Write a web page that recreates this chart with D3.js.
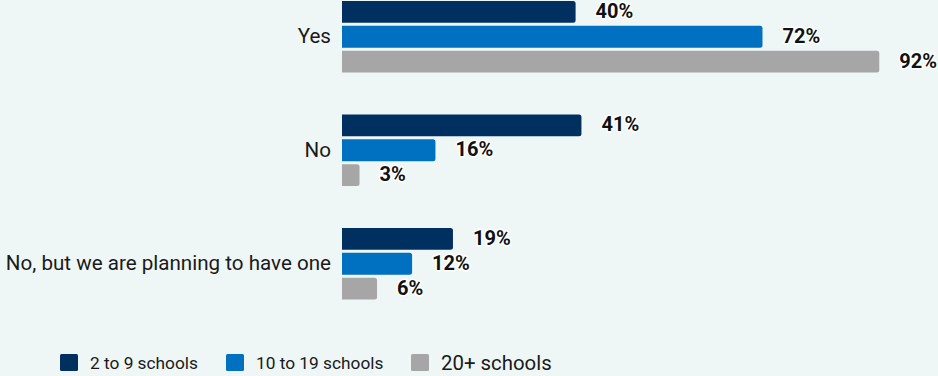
<!DOCTYPE html>
<html>
<head>
<meta charset="utf-8">
<script src="https://cdn.jsdelivr.net/npm/d3@7"></script>
<style>
  html, body { margin: 0; padding: 0; background: #eef7f6; }
  svg { display: block; font-family: Roboto, "Noto Sans", sans-serif; }
</style>
</head>
<body>
<svg id="chart" width="938" height="376"></svg>
<script>
// Survey answers, one group of bars per answer
const categories = ["Yes", "No", "No, but we are planning to have one"];
const seriesNames = ["2 to 9 schools", "10 to 19 schools", "20+ schools"];
const series2to9 = [40, 41, 19];
const series10to19 = [72, 16, 12];
const series20plus = [92, 3, 6];
const seriesColors = ["#00305f", "#0070c0", "#a6a6a6"];

const seriesValues = [series2to9, series10to19, series20plus];

const svg = d3.select("#chart");

const x = d3.scaleLinear().domain([0, 100]).range([342, 926]);

const y0 = d3.scaleBand()
  .domain(categories)
  .range([1, 299.5])
  .paddingInner(0.37)
  .paddingOuter(0);

const y1 = d3.scaleBand()
  .domain(seriesNames)
  .range([0, y0.bandwidth()])
  .paddingInner(0.12)
  .paddingOuter(0);

const rows = [];
categories.forEach((c, ci) => {
  seriesNames.forEach((s, si) => {
    rows.push({ cat: c, ser: s, si, value: seriesValues[si][ci] });
  });
});

// Bar with square left edge and rounded right corners
function barPath(x0, y, w, h, r) {
  r = Math.min(r, w / 2, h / 2);
  return `M${x0},${y}H${x0 + w - r}Q${x0 + w},${y} ${x0 + w},${y + r}` +
         `V${y + h - r}Q${x0 + w},${y + h} ${x0 + w - r},${y + h}H${x0}Z`;
}

const g = svg.append("g");

g.selectAll("path.bar")
  .data(rows)
  .join("path")
  .attr("class", "bar")
  .attr("d", d => barPath(x(0), y0(d.cat) + y1(d.ser), x(d.value) - x(0), y1.bandwidth(), 2.5))
  .attr("fill", d => seriesColors[d.si]);

// Value labels with a white halo
g.selectAll("text.val")
  .data(rows)
  .join("text")
  .attr("class", "val")
  .attr("x", d => x(d.value) + 20)
  .attr("y", d => y0(d.cat) + y1(d.ser) + y1.bandwidth() / 2 - 1)
  .attr("dy", "0.35em")
  .attr("font-size", 20)
  .attr("font-weight", 700)
  .attr("fill", "#111")
  .attr("stroke", "#ffffff")
  .attr("stroke-width", 3)
  .attr("stroke-linejoin", "round")
  .attr("paint-order", "stroke")
  .text(d => d.value + "%");

// Category axis labels
const yAxis = d3.axisLeft(y0).tickSize(0).tickPadding(11);
const axisG = svg.append("g")
  .attr("transform", `translate(${x(0)},0)`)
  .call(yAxis);
axisG.select(".domain").remove();
axisG.selectAll("text")
  .attr("font-size", 20.6)
  .attr("font-family", "Roboto, sans-serif")
  .attr("fill", "#1a1a1a");

// Legend
const legendItems = [
  { name: seriesNames[0], color: seriesColors[0], x: 60, size: 17.3 },
  { name: seriesNames[1], color: seriesColors[1], x: 226, size: 17.3 },
  { name: seriesNames[2], color: seriesColors[2], x: 411, size: 20.4 }
];
const lg = svg.append("g");
legendItems.forEach(it => {
  lg.append("rect")
    .attr("x", it.x).attr("y", 354)
    .attr("width", 18).attr("height", 17)
    .attr("rx", 1.5)
    .attr("fill", it.color);
  lg.append("text")
    .attr("x", it.x + 30).attr("y", 362.5)
    .attr("dy", "0.35em")
    .attr("font-size", it.size)
    .attr("fill", "#1a1a1a")
    .text(it.name);
});
</script>
</body>
</html>
